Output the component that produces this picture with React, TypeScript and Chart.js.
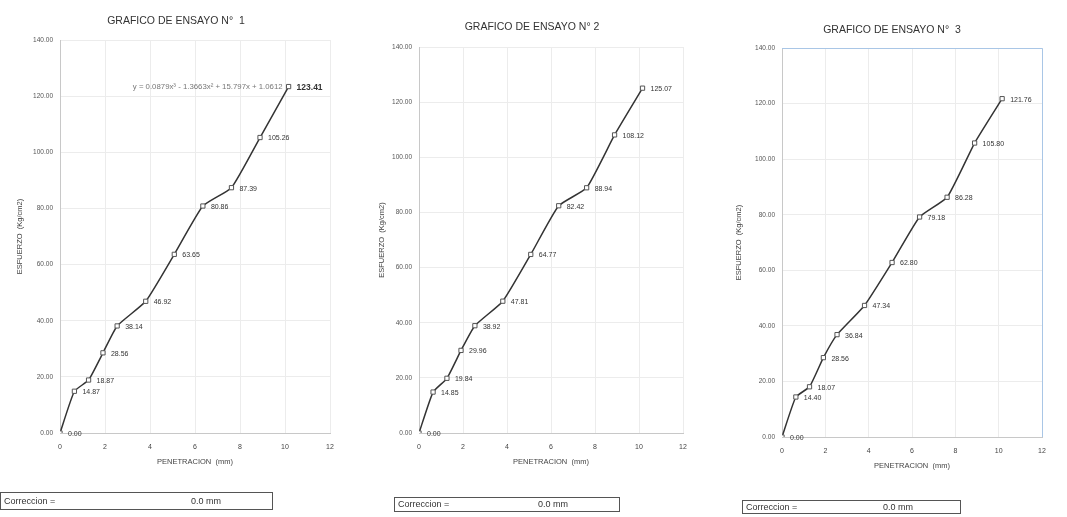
import React, { useEffect, useRef } from "react";
import { Chart, registerables } from "chart.js";

Chart.register(...registerables);

// ---------- data ----------
const penetration = [0, 0.64, 1.27, 1.91, 2.54, 3.81, 5.08, 6.35, 7.62, 8.89, 10.16];
const stress1 = [0.0, 14.87, 18.87, 28.56, 38.14, 46.92, 63.65, 80.86, 87.39, 105.26, 123.41];
const stress2 = [0.0, 14.85, 19.84, 29.96, 38.92, 47.81, 64.77, 82.42, 88.94, 108.12, 125.07];
const stress3 = [0.0, 14.4, 18.07, 28.56, 36.84, 47.34, 62.8, 79.18, 86.28, 105.8, 121.76];
const chartTitles = ["GRAFICO DE ENSAYO N°  1", "GRAFICO DE ENSAYO N° 2", "GRAFICO DE ENSAYO N°  3"];
const xTickValues = [0, 2, 4, 6, 8, 10, 12];
const yTickValues = [0, 20, 40, 60, 80, 100, 120, 140];
const xAxisTitle = "PENETRACION  (mm)";
const yAxisTitle = "ESFUERZO  (Kg/cm2)";
const equation1 = "y = 0.0879x³ - 1.3663x² + 15.797x + 1.0612";
const correctionLabel = "Correccion  =";
const correctionValue = "0.0 mm";

// ---------- layout (not data) ----------
type Panel = {
  left: number; width: number; padL: number; padR: number; padTop: number; padBottom: number;
  yAxisW: number; titleX: number; titleY: number; frame: boolean; equation: boolean; boldLast: boolean;
  box: { left: number; top: number; width: number; height: number; valueX: number };
};

const panels: Panel[] = [
  { left: 0, width: 355, padL: 10, padR: 25, padTop: 40, padBottom: 44, yAxisW: 50, titleX: 176, titleY: 21, frame: false, equation: true, boldLast: true,
    box: { left: 0, top: 492, width: 273, height: 18, valueX: 190 } },
  { left: 355, width: 355, padL: 17, padR: 27, padTop: 47, padBottom: 44, yAxisW: 47, titleX: 177, titleY: 27, frame: false, equation: false, boldLast: false,
    box: { left: 394, top: 497, width: 226, height: 15, valueX: 143 } },
  { left: 710, width: 357, padL: 19, padR: 25, padTop: 48, padBottom: 40, yAxisW: 53, titleX: 182, titleY: 30, frame: true, equation: false, boldLast: false,
    box: { left: 742, top: 500, width: 219, height: 14, valueX: 140 } },
];

const seriesList = [stress1, stress2, stress3];
const FONT = "'Liberation Sans', Arial, sans-serif";

function ChartPanel({ idx }: { idx: number }) {
  const ref = useRef<HTMLCanvasElement | null>(null);
  const p = panels[idx];
  const values = seriesList[idx];

  useEffect(() => {
    if (!ref.current) return;
    const data = penetration.map((x, i) => ({ x, y: values[i] }));

    const overlay = {
      id: "overlay" + idx,
      afterDatasetsDraw(chart: any) {
        const ctx = chart.ctx;
        const xs = chart.scales.x;
        const ys = chart.scales.y;
        const area = chart.chartArea;
        ctx.save();
        if (p.frame) {
          ctx.strokeStyle = "#a9c6e6";
          ctx.lineWidth = 1;
          ctx.beginPath();
          ctx.moveTo(area.left, area.top + 0.5);
          ctx.lineTo(area.right + 0.5, area.top + 0.5);
          ctx.lineTo(area.right + 0.5, area.bottom);
          ctx.stroke();
        }
        // point labels
        ctx.fillStyle = "#333";
        ctx.textBaseline = "middle";
        ctx.textAlign = "left";
        values.forEach((v, i) => {
          const px = xs.getPixelForValue(penetration[i]);
          const py = ys.getPixelForValue(v);
          const last = i === values.length - 1;
          ctx.font = p.boldLast && last ? `bold 8.5px ${FONT}` : `7px ${FONT}`;
          ctx.fillText(v.toFixed(2), px + 8, py + 1);
        });
        if (p.equation) {
          const lx = xs.getPixelForValue(penetration[penetration.length - 1]);
          const ly = ys.getPixelForValue(values[values.length - 1]);
          ctx.font = `7.8px ${FONT}`;
          ctx.fillStyle = "#777";
          ctx.textAlign = "right";
          ctx.fillText(equation1, lx - 6, ly);
        }
        // title
        ctx.font = `10.5px ${FONT}`;
        ctx.fillStyle = "#333";
        ctx.textAlign = "center";
        ctx.fillText(chartTitles[idx], p.titleX, p.titleY);
        ctx.restore();
      },
    };

    const chart = new Chart(ref.current, {
      type: "line",
      data: {
        datasets: [
          {
            data,
            borderColor: "#333",
            borderWidth: 1.5,
            tension: 0.15,
            pointStyle: "rect",
            pointRadius: 3,
            pointBackgroundColor: "#fff",
            pointBorderColor: "#555",
            pointBorderWidth: 1,
          },
        ],
      },
      options: {
        animation: false,
        responsive: false,
        events: [],
        layout: { padding: { left: p.padL, right: p.padR, top: p.padTop, bottom: p.padBottom } },
        plugins: { legend: { display: false }, title: { display: false }, tooltip: { enabled: false } },
        scales: {
          x: {
            type: "linear",
            min: 0,
            max: 12,
            afterBuildTicks: (s: any) => { s.ticks = xTickValues.map((v) => ({ value: v })); },
            afterFit: (s: any) => { s.height = 40; },
            ticks: { font: { size: 7, family: FONT }, color: "#444", padding: 10, callback: (v: any) => String(v) },
            grid: { color: "#ececec", drawTicks: false },
            border: { color: "#c8c8c8" },
            title: { display: true, text: xAxisTitle, font: { size: 7.5, family: FONT }, color: "#444", padding: { top: 0, bottom: 7 } },
          },
          y: {
            min: 0,
            max: 140,
            afterBuildTicks: (s: any) => { s.ticks = yTickValues.map((v) => ({ value: v })); },
            afterFit: (s: any) => { s.width = p.yAxisW; },
            ticks: { font: { size: 6.5, family: FONT }, color: "#555", padding: 7, callback: (v: any) => Number(v).toFixed(2) },
            grid: { color: "#ececec", drawTicks: false },
            border: { color: "#c8c8c8" },
            title: { display: true, text: yAxisTitle, font: { size: 7.5, family: FONT }, color: "#444", padding: { top: 5, bottom: 0 } },
          },
        },
      },
      plugins: [overlay],
    } as any);
    return () => chart.destroy();
  }, []);

  return (
    <>
      <canvas
        ref={ref}
        width={p.width}
        height={517}
        style={{ position: "absolute", left: p.left, top: 0, width: p.width, height: 517 }}
      />
      <div
        style={{
          position: "absolute",
          left: p.box.left,
          top: p.box.top,
          width: p.box.width,
          height: p.box.height,
          border: "1px solid #555",
          boxSizing: "border-box",
          fontFamily: FONT,
          fontSize: 9,
          color: "#333",
          lineHeight: `${p.box.height - 2}px`,
        }}
      >
        <span style={{ position: "absolute", left: 3 }}>{correctionLabel}</span>
        <span style={{ position: "absolute", left: p.box.valueX }}>{correctionValue}</span>
      </div>
    </>
  );
}

export default function App() {
  return (
    <div style={{ position: "fixed", left: 0, top: 0, width: 1067, height: 517, background: "#fff", overflow: "hidden" }}>
      {panels.map((_, i) => (
        <ChartPanel key={i} idx={i} />
      ))}
    </div>
  );
}
